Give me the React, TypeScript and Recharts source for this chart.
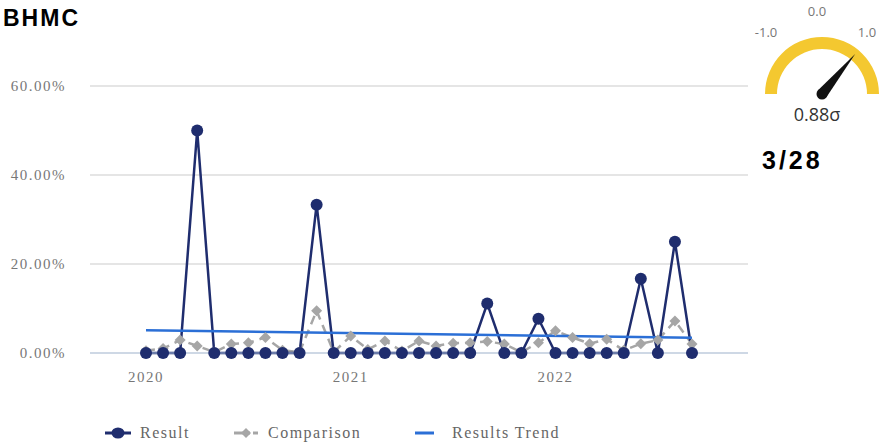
import { LineChart, Line, XAxis, YAxis, CartesianGrid, Legend, PieChart, Pie, Cell } from 'recharts';

const MONTHS = [
  '2020-01', '2020-02', '2020-03', '2020-04', '2020-05', '2020-06', '2020-07', '2020-08', '2020-09', '2020-10', '2020-11', '2020-12',
  '2021-01', '2021-02', '2021-03', '2021-04', '2021-05', '2021-06', '2021-07', '2021-08', '2021-09', '2021-10', '2021-11', '2021-12',
  '2022-01', '2022-02', '2022-03', '2022-04', '2022-05', '2022-06', '2022-07', '2022-08', '2022-09',
];
const RESULT = [0, 0, 0, 50, 0, 0, 0, 0, 0, 0, 33.33, 0, 0, 0, 0, 0, 0, 0, 0, 0, 11.11, 0, 0, 7.69, 0, 0, 0, 0, 0, 16.67, 0, 25, 0];
const COMPARISON = [0.5, 1.0, 2.9, 1.6, 0.2, 2.0, 2.3, 3.5, 0.6, 0.2, 9.5, 0.2, 3.8, 0.8, 2.7, 0.45, 2.7, 1.6, 2.2, 2.3, 2.6, 2.0, 0.2, 2.3, 5.0, 3.5, 2.1, 3.1, 0.6, 2.1, 2.9, 7.2, 2.0];
const TREND_START = 5.1;
const TREND_END = 3.45;
const X_TICKS = ['2020-01', '2021-01', '2022-01'];
const Y_TICKS = [0, 20, 40, 60];

const GAUGE_VALUE = 0.88;
const GAUGE_ARC = [{ name: 'range', value: 1 }];
const GAUGE_LABELS = ['-1.0', '0.0', '1.0'];

const NAVY = '#1f2d6e';
const GRAY = '#a6a6a6';
const BLUE = '#2b6fd6';
const SERIF = '"Liberation Serif", "Times New Roman", serif';

const data = MONTHS.map((m, i) => ({
  month: m,
  result: RESULT[i],
  comparison: COMPARISON[i],
  trend: i === 0 ? TREND_START : i === MONTHS.length - 1 ? TREND_END : null,
}));

const Diamond = (props: any) => {
  const { cx, cy } = props;
  if (cx == null || cy == null) return null;
  const s = 5.5;
  return <path d={`M${cx},${cy - s}L${cx + s},${cy}L${cx},${cy + s}L${cx - s},${cy}Z`} fill={GRAY} />;
};

const renderLegend = () => {
  const text = { fontFamily: SERIF, fontSize: 16, letterSpacing: 1.5, fill: '#666' };
  return (
    <svg width={600} height={26} style={{ display: 'block' }}>
      <line x1={105} y1={13} x2={131} y2={13} stroke={NAVY} strokeWidth={3} />
      <ellipse cx={118} cy={13} rx={6.5} ry={5.5} fill={NAVY} />
      <text x={140} y={18} {...text}>Result</text>
      <line x1={234} y1={13} x2={250} y2={13} stroke={GRAY} strokeWidth={3} />
      <line x1={253} y1={13} x2={258} y2={13} stroke={GRAY} strokeWidth={3} />
      <path d="M246,8L251,13L246,18L241,13Z" fill={GRAY} />
      <text x={268} y={18} {...text}>Comparison</text>
      <line x1={415} y1={13} x2={434} y2={13} stroke={BLUE} strokeWidth={3} />
      <text x={452} y={18} {...text}>Results Trend</text>
    </svg>
  );
};

const renderNeedle = (props: any) => {
  const { cx, cy } = props;
  const ang = ((90 - GAUGE_VALUE * 45) * Math.PI) / 180;
  const len = 52;
  const tipX = cx + len * Math.cos(ang);
  const tipY = cy - len * Math.sin(ang);
  const w = 5.5;
  const px = Math.sin(ang) * w;
  const py = Math.cos(ang) * w;
  return (
    <g>
      <circle cx={cx} cy={cy} r={w} fill="#111" />
      <path d={`M${cx - px},${cy - py}L${tipX},${tipY}L${cx + px},${cy + py}Z`} fill="#111" />
    </g>
  );
};

export default function App() {
  return (
    <div style={{ position: 'absolute', left: 0, top: 0, width: 880, height: 443, background: '#fff' }}>
      <LineChart width={880} height={443} data={data} margin={{ top: 86, right: 132, bottom: 34, left: 0 }}>
        <CartesianGrid vertical={false} stroke="#cccccc" strokeWidth={1.2} />
        <XAxis
          dataKey="month"
          ticks={X_TICKS}
          tickFormatter={(v: string) => v.slice(0, 4)}
          padding={{ left: 56, right: 56 }}
          axisLine={{ stroke: '#b8cce6', strokeWidth: 1.2 }}
          tickLine={false}
          tickMargin={12}
          tick={{ fontFamily: SERIF, fontSize: 15, letterSpacing: 1.5, fill: '#777' }}
        />
        <YAxis
          width={90}
          domain={[0, 60]}
          ticks={Y_TICKS}
          tickFormatter={(v: number) => `${v.toFixed(2)}%`}
          axisLine={false}
          tickLine={false}
          tickMargin={18}
          tick={{ fontFamily: SERIF, fontSize: 15, letterSpacing: 1.5, fill: '#777' }}
        />
        <Legend content={renderLegend} wrapperStyle={{ left: 0, top: 420, width: 600 }} />
        <Line
          dataKey="comparison"
          name="Comparison"
          stroke={GRAY}
          strokeWidth={2.5}
          strokeDasharray="9 6"
          dot={<Diamond />}
          isAnimationActive={false}
        />
        <Line
          dataKey="result"
          name="Result"
          stroke={NAVY}
          strokeWidth={2.5}
          dot={{ r: 6, fill: NAVY, stroke: NAVY, strokeWidth: 0 }}
          isAnimationActive={false}
        />
        <Line
          dataKey="trend"
          name="Results Trend"
          stroke={BLUE}
          strokeWidth={2.5}
          dot={false}
          connectNulls
          isAnimationActive={false}
        />
      </LineChart>

      <div style={{ position: 'absolute', left: 3, top: 5, fontFamily: '"Liberation Sans", Arial, sans-serif', fontWeight: 700, fontSize: 23, letterSpacing: 2, color: '#000' }}>
        BHMC
      </div>

      <div style={{ position: 'absolute', left: 752, top: 0, width: 128, height: 130 }}>
        <PieChart width={128} height={100}>
          <Pie
            data={GAUGE_ARC}
            dataKey="value"
            cx={65}
            cy={89}
            startAngle={180}
            endAngle={0}
            innerRadius={45}
            outerRadius={57}
            stroke="none"
            label={renderNeedle}
            labelLine={false}
            isAnimationActive={false}
          >
            {GAUGE_ARC.map((d) => (
              <Cell key={d.name} fill="#f4c830" />
            ))}
          </Pie>
        </PieChart>
        <div style={{ position: 'absolute', left: 0, top: 0, width: 128, height: 130, fontFamily: '"Open Sans", sans-serif', color: '#777', fontSize: 13 }}>
          <span style={{ position: 'absolute', left: -2, top: 23, width: 32, textAlign: 'center' }}>{GAUGE_LABELS[0]}</span>
          <span style={{ position: 'absolute', left: 49, top: 2, width: 32, textAlign: 'center' }}>{GAUGE_LABELS[1]}</span>
          <span style={{ position: 'absolute', left: 99, top: 23, width: 32, textAlign: 'center' }}>{GAUGE_LABELS[2]}</span>
          <span style={{ position: 'absolute', left: 15, top: 102, width: 100, textAlign: 'center', fontSize: 18, color: '#333' }}>
            {GAUGE_VALUE.toFixed(2)}σ
          </span>
        </div>
      </div>

      <div style={{ position: 'absolute', left: 762, top: 146, fontFamily: '"Liberation Sans", Arial, sans-serif', fontWeight: 700, fontSize: 25, letterSpacing: 3, color: '#000' }}>
        3/28
      </div>
    </div>
  );
}
